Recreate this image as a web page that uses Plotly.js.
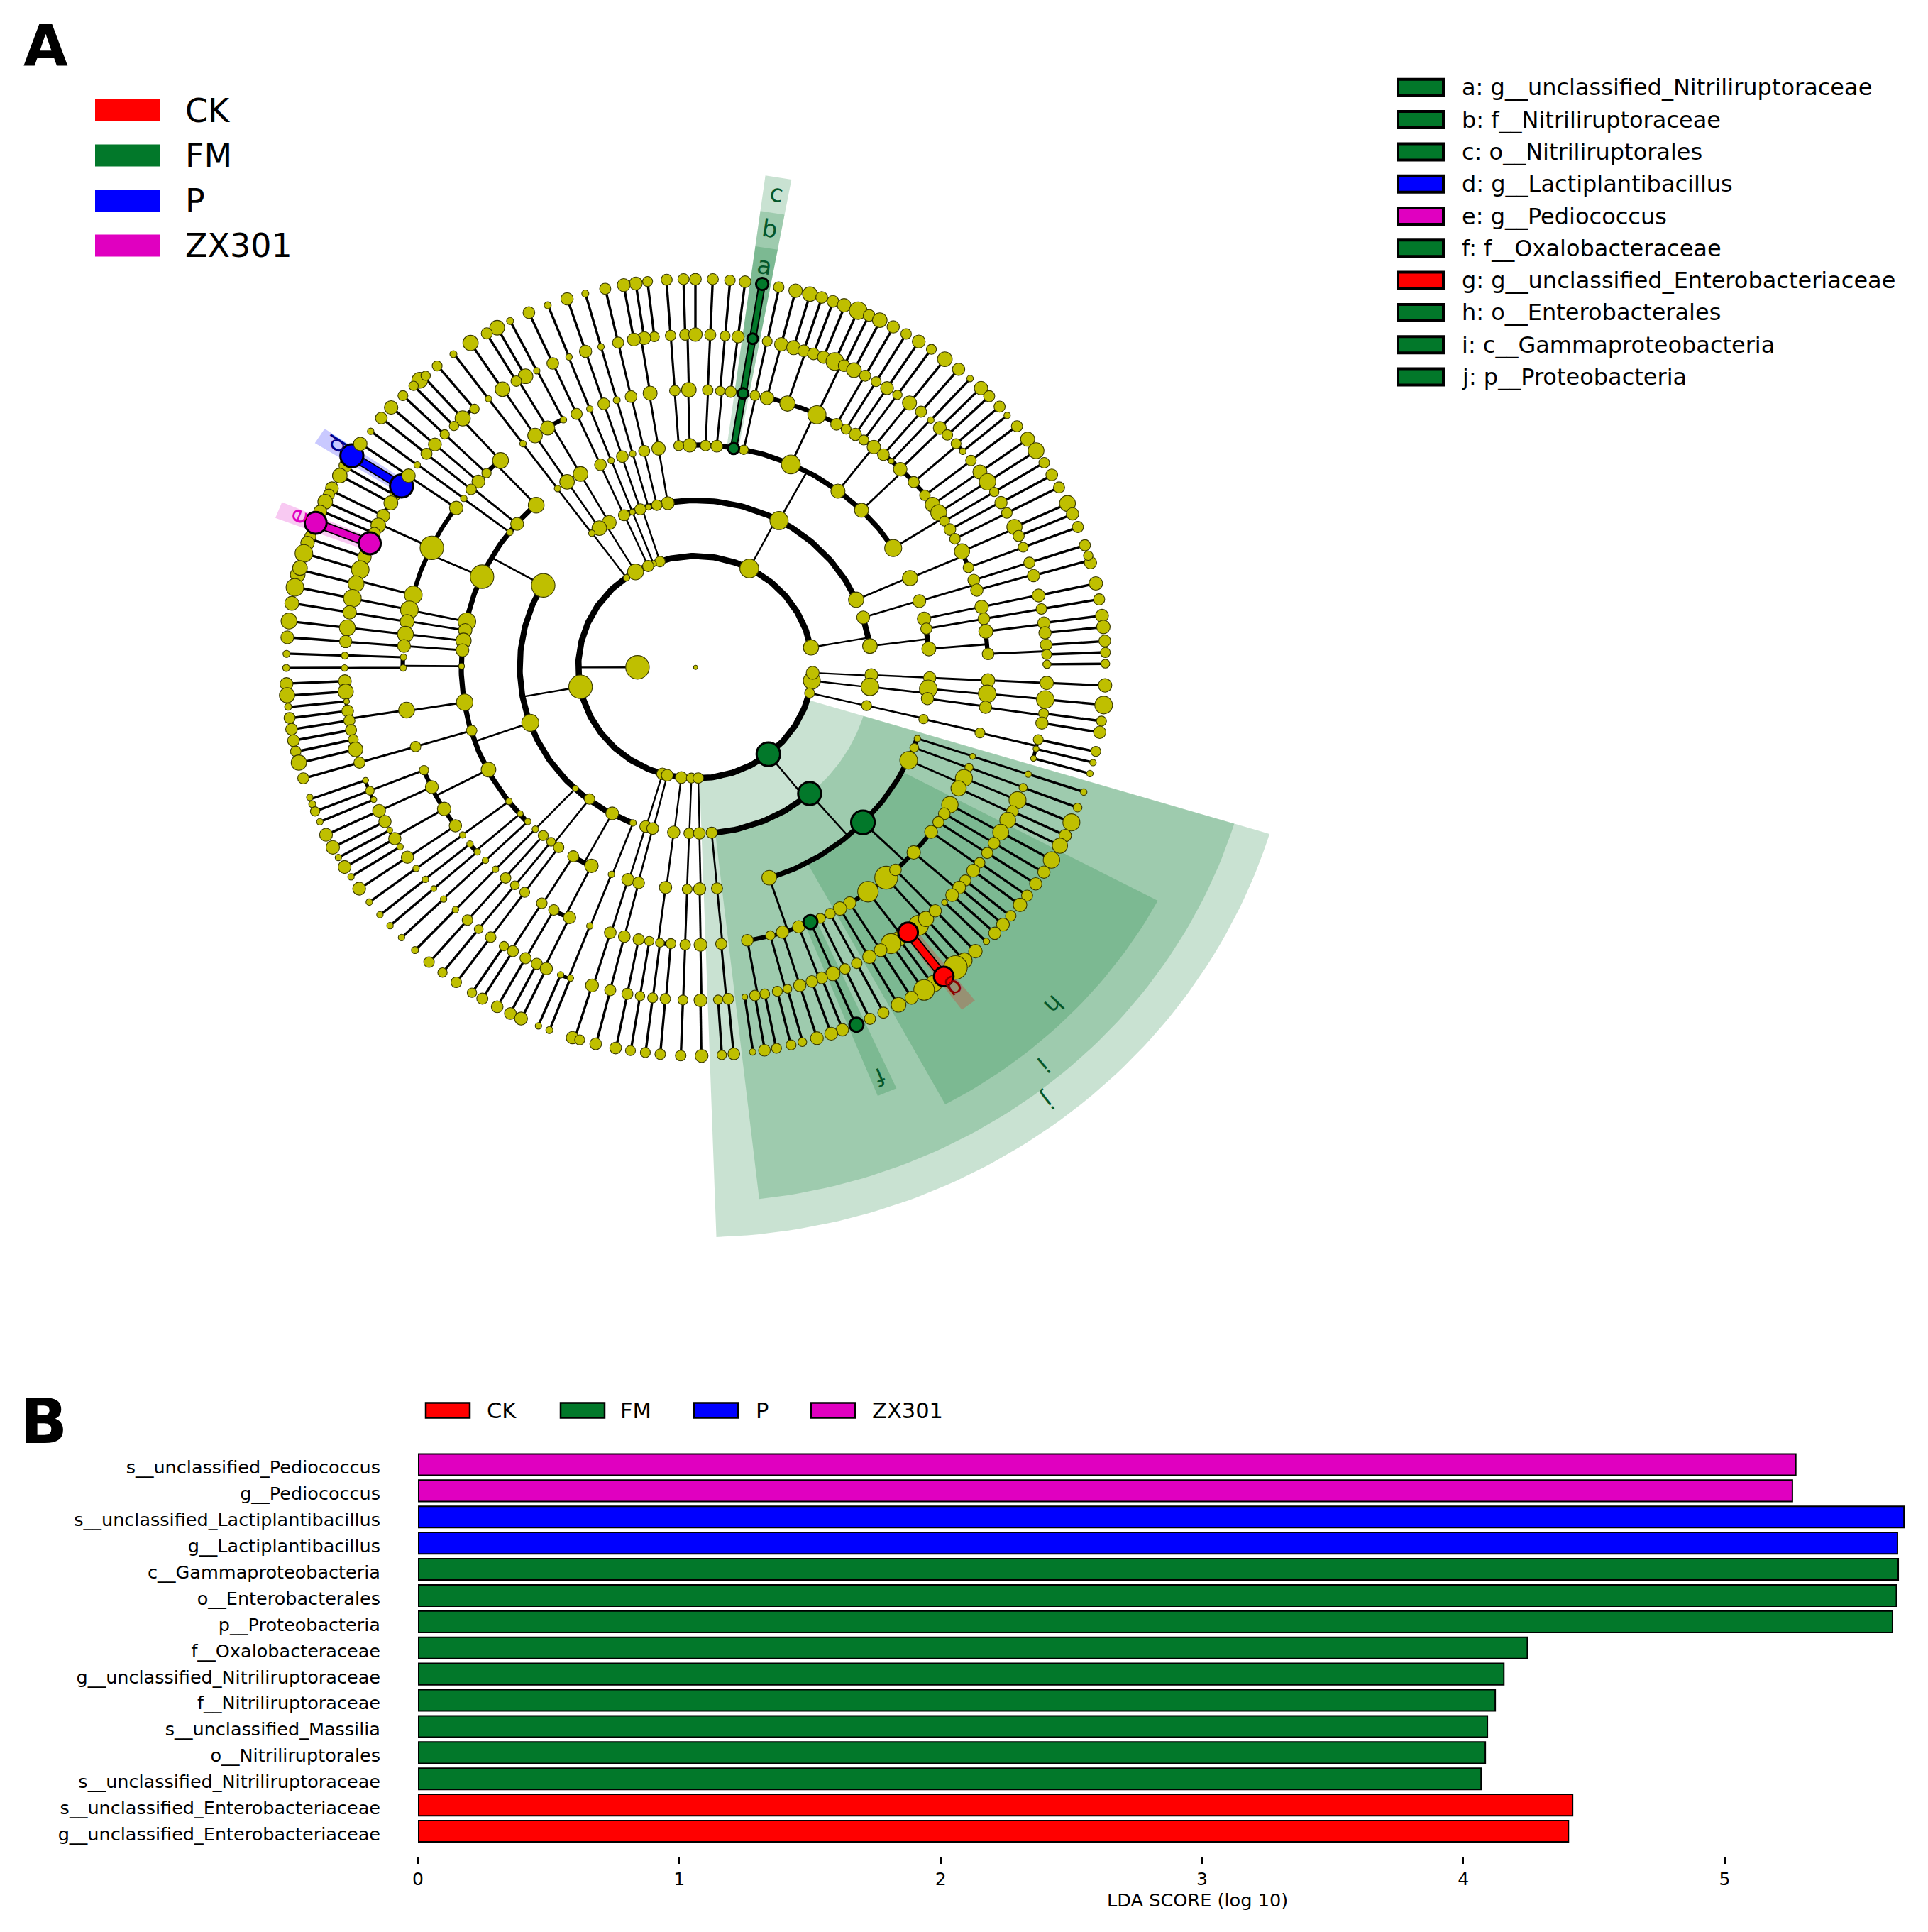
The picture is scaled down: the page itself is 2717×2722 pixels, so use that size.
<!DOCTYPE html>
<html><head><meta charset="utf-8">
<script src="https://cdn.plot.ly/plotly-3.0.1.min.js"></script>
<style>html,body{margin:0;padding:0;background:#fff}#chart{width:2717px;height:2722px}</style>
</head><body><div id="chart"></div>
<script>
/* ---------- panel B values ---------- */
const taxa = ["s__unclassified_Pediococcus","g__Pediococcus","s__unclassified_Lactiplantibacillus","g__Lactiplantibacillus","c__Gammaproteobacteria","o__Enterobacterales","p__Proteobacteria","f__Oxalobacteraceae","g__unclassified_Nitriliruptoraceae","f__Nitriliruptoraceae","s__unclassified_Massilia","o__Nitriliruptorales","s__unclassified_Nitriliruptoraceae","s__unclassified_Enterobacteriaceae","g__unclassified_Enterobacteriaceae"];
const ldaScores = [5.272,5.259,5.686,5.661,5.664,5.657,5.642,4.245,4.155,4.122,4.092,4.084,4.068,4.418,4.402];
const taxaGroup = ["ZX301","ZX301","P","P","FM","FM","FM","FM","FM","FM","FM","FM","FM","CK","CK"];
const groups = ["CK","FM","P","ZX301"];
const groupColor = {CK:"#ff0000",FM:"#02782a",P:"#0000ff",ZX301:"#e000c0"};
const cladeLegend = [["a: g__unclassified_Nitriliruptoraceae","FM"],["b: f__Nitriliruptoraceae","FM"],["c: o__Nitriliruptorales","FM"],["d: g__Lactiplantibacillus","P"],["e: g__Pediococcus","ZX301"],["f: f__Oxalobacteraceae","FM"],["g: g__unclassified_Enterobacteriaceae","CK"],["h: o__Enterobacterales","FM"],["i: c__Gammaproteobacteria","FM"],["j: p__Proteobacteria","FM"]];

/* ---------- panel A values: tree nodes read per plate quadrant [x, y, abundance diameter] ---------- */
const nodesNW = [[1475,135,38],[1415,137,38],[1347,143,34],[1305,150,44],[1262,156,44],[1196,169,38],[1125,186,24],[1060,205,42],[991,228,24],[924,254,40],[857,284,24],[811,308,50],[774,328,38],[716,362,52],[655,402,24],[597,444,34],[535,495,54],[556,479,32],[513,515,32],[475,550,34],[433,592,46],[398,630,40],[360,677,22],[270,800,44],[250,835,50],[222,880,44],[211,903,38],[198,928,50],[180,963,44],[145,1052,38],[135,1075,46],[122,1112,60],[100,1188,50],[108,1164,50],[90,1233,60],[79,1290,48],[69,1353,54],[63,1411,44],[60,1470,24],[59,1520,24],
[1481,333,38],[1429,336,36],[1371,340,34],[1335,345,44],[1298,350,44],[1242,361,38],[1181,376,22],[1126,392,42],[1067,412,22],[1009,435,40],[952,461,22],[912,481,50],[879,498,36],[830,527,50],[780,561,22],[730,597,32],[688,631,52],[657,658,32],[624,688,32],[589,724,44],[559,757,38],[526,797,22],[447,905,36],[432,932,48],[405,978,44],[387,1012,50],[373,1040,40],[338,1125,46],[323,1170,60],[308,1220,54],[295,1272,60],[285,1322,46],[277,1377,54],[271,1426,42],[268,1476,24],[267,1520,22],
[1494,529,50],[1444,532,36],[1356,541,48],[1288,553,40],[1237,566,24],[1191,579,40],[1141,597,22],[1094,615,38],[1047,636,22],[991,665,48],[946,692,50],[903,721,22],[823,781,54],[773,826,32],[744,856,44],[718,884,36],[692,916,22],[665,950,46],[578,1092,80],[512,1260,60],[498,1313,60],[490,1355,48],[484,1400,54],[479,1442,44],[477,1482,22],[476,1520,22],
[1497,727,46],[1458,728,34],[1386,738,46],[1335,747,38],[1294,757,22],[1257,767,40],[1217,781,22],[1179,796,40],[1108,829,50],[1060,857,50],[1026,881,22],[950,940,54],[882,1007,44],[856,1037,22],[757,1195,80],[703,1355,60],[697,1386,46],[691,1423,52],[687,1457,44],[684,1514,20],
[1419,933,44],[1380,940,36],[1350,947,20],[1321,955,38],[1293,965,20],[1263,976,38],[1210,1002,48],[1175,1022,50],[1148,1040,22],[975,1226,80],
[1391,1141,36],[1368,1149,20],[1349,1157,38],[1304,1178,54],[1272,1199,22],[1311,1518,80],[1518,1518,14]];
const nodesNE = [[0,135,40],[62,135,38],[123,139,36],[177,144,40],[297,163,36],[357,176,46],[408,188,50],[450,200,40],[490,214,40],[530,228,46],[580,247,60],[619,264,40],[657,281,50],[705,305,42],[751,330,36],[796,357,44],[841,385,34],[889,420,50],[938,456,42],[979,489,22],[1018,523,46],[1047,552,38],[1084,589,38],[1111,620,22],[1146,659,38],[1184,705,48],[1214,746,54],[1243,789,36],[1270,832,40],[1296,877,38],[1326,934,54],[1344,971,42],[1363,1018,38],[1388,1083,38],[1408,1145,42],[1400,1120,32],[1427,1219,46],[1439,1276,38],[1449,1334,44],[1454,1374,46],[1459,1424,40],[1461,1465,34],[1461,1505,30],
[0,332,46],[53,333,38],[106,337,34],[152,340,42],[256,356,34],[306,367,46],[350,379,48],[386,390,40],[421,401,40],[457,413,42],[497,428,60],[530,443,40],[565,459,50],[605,479,38],[644,500,34],[683,523,44],[720,547,32],[763,576,48],[804,607,38],[839,637,22],[871,665,44],[898,690,36],[929,721,34],[953,748,22],[982,781,36],[1014,822,48],[1041,857,56],[1065,893,32],[1089,931,42],[1110,968,36],[1137,1018,52],[1152,1050,38],[1168,1090,34],[1190,1145,38],[1205,1191,42],[1223,1262,44],[1233,1310,36],[1242,1360,42],[1246,1395,42],[1250,1438,40],[1252,1472,34],[1253,1507,28],
[44,530,36],[88,533,32],[126,536,38],[212,549,34],[255,558,46],[328,578,52],[433,618,62],[503,652,40],[537,669,34],[570,688,42],[600,708,34],[636,733,46],[670,760,40],[698,783,20],[730,812,46],[778,858,38],[818,905,36],[845,938,50],[867,967,54],[888,997,34],[907,1027,40],[925,1060,36],[950,1105,52],[973,1162,36],[992,1207,40],[1003,1243,42],[1020,1303,46],[1028,1345,40],[1035,1390,48],[1043,1470,40],
[36,728,36],[76,730,40],[172,743,32],[340,795,64],[508,890,48],[592,958,48],[705,1093,58],[765,1200,52],[798,1282,44],[815,1345,46],[823,1380,38],[832,1452,48],
[298,995,62],[573,1277,52],[598,1340,44],[622,1442,50],[192,1166,64],[412,1447,52]];
const nodesSW = [[60,60,44],[62,100,52],[66,141,24],[71,181,38],[78,221,40],[85,262,40],[93,300,36],[104,340,52],[120,396,38],[143,464,22],[152,488,24],[162,514,32],[179,551,22],[201,597,44],[225,642,46],[245,678,22],[267,712,44],[290,747,22],[319,789,44],[355,837,22],[393,882,22],[429,921,22],[470,963,22],[518,1008,24],[568,1051,36],[616,1088,32],[665,1123,36],[721,1160,32],[758,1181,38],[811,1210,40],[858,1234,40],[896,1252,44],[958,1278,22],[997,1293,24],[1079,1320,42],[1105,1328,34],[1162,1342,40],[1233,1357,40],[1286,1366,34],[1339,1373,34],[1392,1379,36],[1465,1384,36],
[268,50,44],[271,87,52],[274,122,20],[278,156,40],[284,190,38],[290,224,38],[298,258,34],[306,293,50],[320,340,38],[342,403,20],[357,440,30],[371,472,20],[390,512,44],[411,550,42],[428,581,20],[446,611,42],[465,640,22],[491,677,42],[522,717,22],[555,756,22],[585,789,20],[620,826,22],[662,864,22],[705,901,36],[745,933,30],[788,962,36],[835,994,32],[867,1012,38],[912,1037,38],[952,1057,38],[986,1074,42],[1037,1096,22],[1072,1108,22],[1149,1134,44],[1214,1151,38],[1275,1164,38],[1320,1172,32],[1365,1178,34],[1410,1182,36],[1473,1186,34],
[488,153,54],[520,283,36],[550,367,32],[578,427,44],[622,505,46],[662,565,42],[688,598,22],[714,630,22],[740,658,22],[769,688,22],[805,720,22],[841,751,36],[874,777,30],[909,802,34],[970,841,36],[1013,865,36],[1069,892,42],[1141,922,22],[1214,946,40],[1264,960,40],[1315,970,38],[1353,976,32],[1391,982,30],[1430,985,34],[1481,989,36],
[695,125,56],[720,226,36],[780,365,50],[853,478,22],[893,522,20],[920,550,22],[947,577,22],[975,600,34],[1003,622,30],[1030,642,36],[1082,674,38],[1147,708,46],[1218,738,22],[1277,757,42],[1315,768,40],[1411,785,42],[1488,791,34],
[929,198,58],[1090,432,20],[1140,470,36],[1221,521,44],[1295,555,22],[1340,568,40],[1365,575,40],[1440,588,42],[1495,592,36],
[1108,70,80],[1400,380,40],[1417,385,40],[1467,393,40],[1503,395,34]];
const nodesSE = [[1460,65,46],[1455,135,60],[1447,192,34],[1441,232,42],[1427,300,34],[1417,340,22],[1406,379,22],[1384,445,22],[1362,500,30],[1340,553,58],[1318,600,42],[1299,636,52],[1269,687,56],[1242,730,42],[1213,772,42],[1182,814,38],[1157,847,46],[1124,886,36],[1096,917,44],[1067,948,42],[1037,977,22],[998,1012,46],[959,1045,52],[927,1070,80],[850,1127,56],[815,1150,70],[770,1178,44],[724,1203,50],[670,1231,38],[622,1253,38],[524,1292,42],[484,1306,44],[433,1322,44],[381,1336,30],[341,1346,34],[289,1358,34],[246,1365,40],[204,1371,22],[137,1378,40],[94,1382,32],[22,1385,44],
[1252,56,46],[1247,115,60],[1241,165,34],[1235,199,42],[1222,258,34],[1214,291,20],[1205,325,20],[1186,381,22],[1168,429,28],[1148,474,58],[1130,514,40],[1113,545,54],[1088,588,54],[1064,627,40],[1040,662,38],[1013,697,36],[990,725,44],[962,760,38],[940,785,44],[915,812,44],[888,838,20],[795,920,68],[822,897,52],[855,868,42],[725,968,50],[697,985,68],[660,1008,44],[620,1032,46],[575,1055,36],[533,1075,36],[490,1092,48],[450,1107,40],[415,1120,40],[372,1134,42],[328,1146,30],[292,1155,34],[247,1164,34],[212,1170,36],[176,1175,20],[117,1182,38],[81,1185,32],[18,1187,44],
[1043,47,46],[1040,95,60],[1034,143,42],[1014,234,34],[988,318,20],[975,357,28],[957,395,58],[938,432,52],[907,490,56],[887,522,40],[866,552,38],[840,587,44],[778,660,46],[680,750,78],[713,722,40],[615,800,70],[550,840,42],[515,860,46],[480,878,36],[445,895,34],[368,925,42],[310,944,42],[267,956,32],[185,973,40],[92,986,38],[18,989,44],
[835,38,42],[830,77,60],[827,112,42],[813,185,32],[791,254,22],[780,287,30],[760,332,60],[263,750,50],[77,788,38],[15,790,42],
[627,28,44],[622,70,60],[610,137,34],[58,590,38],[14,592,40],[415,48,58],[418,20,44],[407,92,34],[10,395,36]];
const overlayNodesNW = [[323,722,46],[495,835,46]];

/* marked biomarkers: plate, group, chain of nodes */
const biomarkerChains = [
 ["NE","FM",[[136,738,40],[170,542,38],[204,347,38],[238,152,44]]],
 ["NW","P",[[470,872,82],[293,764,82]]],
 ["NW","ZX301",[[357,1076,78],[164,1003,78]]],
 ["SE","CK",[[758,945,70],[885,1102,70]]]];
const biomarkerNodes = [["SE","FM",[260,310,84]],["SE","FM",[407,450,82]],["SE","FM",[597,553,84]],["SE","FM",[410,908,50]],["SE","FM",[574,1274,50]]];

/* branch arcs: long ones as [ring, fromDeg, toDeg]; short ones as pairs of node positions on a plate */
const longArcs = [[165,10,347],[247.5,24,99],[247.5,150.5,249],[247.5,275,311],[330,32,94],[330,133,224],[330,288.5,341.4],[412.5,27.5,75.8],[412.5,280.2,330.4]];
const shortArcs = {
 NW:[[665,950,578,1092],[578,1092,512,1260],[823,781,773,826],[991,665,1047,636],[477,1482,476,1520],[405,978,432,932],[688,631,730,597],[1419,933,1263,976],[1210,1002,1148,1040]],
 NE:[[950,1105,973,1162],[1035,1390,1043,1470],[823,1380,832,1452],[815,1345,823,1380],[598,1340,622,1442],[992,1207,1003,1243],[953,748,929,721]],
 SW:[[275,122,278,156],[342,403,371,472],[428,581,446,611],[714,630,740,658],[1013,865,1069,892],[1037,1096,1072,1108],[1082,674,1147,708],[550,367,622,505],[622,505,662,565],[1391,982,1430,985]],
 SE:[[1205,325,1222,258],[418,20,407,92]]};

/* coloured clade sectors: [centre deg, half width deg, inner ring, outer radius, group] */
const sectors = [[-52.5,35.5,165,846,"FM"],[-50.25,33.25,247.5,794,"FM"],[-44.75,16.75,330,738,"FM"],[-66.8,1.2,412.5,686,"FM"],[-52.5,1.05,495,632,"CK"],[80.85,1.45,330,736,"FM"],[80.85,1.45,412.5,683,"FM"],[80.85,1.45,495,630,"FM"],[147.05,1.15,495,631,"P"],[158.35,1.15,495,632,"ZX301"]];
const sectorLabels = [["a",1077,374,9,"#04572a"],["b",1085,322,9,"#04572a"],["c",1094,272,9,"#04572a"],["d",474,625,-57,"#00008c"],["e",419,727,-68,"#e000c0"],["f",1240,1517,157,"#04572a"],["g",1346,1393,142,"#8c0000"],["h",1485,1416,135,"#04572a"],["i",1471,1500,140,"#04572a"],["j",1477,1551,142,"#04572a"]];

/* ---------- plate geometry ---------- */
const plate = {NW:[380,340],NE:[980,340],SW:[380,940],SE:[980,940]}, zoomK = 1568/620;
const cx = 980, cy = 940, squash = 577/548, ringStep = 82.5, nodeScale = 1.05;
const px = (p,x) => plate[p][0] + x/zoomK, py = (p,y) => plate[p][1] + y/zoomK;
const polar = (p,x,y) => { const dx=px(p,x)-cx, dy=(py(p,y)-cy)*squash; return {r:Math.hypot(dx,dy), a:Math.atan2(-dy,dx)*180/Math.PI}; };
const ptAt = (r,a) => [cx + r*Math.cos(a*Math.PI/180), cy - r*Math.sin(a*Math.PI/180)/squash];
const allNodes = [["NW",nodesNW],["NE",nodesNE],["SW",nodesSW],["SE",nodesSE]];

/* stems, per ring */
const stemWidth = {1:2.3,2:2.4,3:2.6,4:2.9,5:3.1,6:3.4};
const stems = {};
function addStem(p,n){ const q=polar(p,n[0],n[1]); const lvl=Math.round(q.r/ringStep);
  if(lvl<1||lvl>6) return; (stems[lvl]=stems[lvl]||{x:[],y:[]});
  const A=ptAt(lvl*ringStep,q.a),B=ptAt((lvl+1)*ringStep,q.a);
  stems[lvl].x.push(A[0],B[0],null); stems[lvl].y.push(A[1],B[1],null); }
allNodes.forEach(([p,list])=>list.forEach(n=>addStem(p,n)));
overlayNodesNW.forEach(n=>addStem("NW",n));
biomarkerNodes.forEach(([p,g,n])=>addStem(p,n));

/* arcs, per ring */
const arcWidth = {1:3,2:8.6,3:8.2,4:7.2,5:6.2,6:5,7:3};
const arcs = {};
function addArc(ring,a1,a2){ const lvl=Math.round(ring/ringStep); (arcs[lvl]=arcs[lvl]||{x:[],y:[]});
  const n=Math.max(2,Math.ceil(Math.abs(a2-a1)));
  for(let i=0;i<=n;i++){const P=ptAt(lvl*ringStep,a1+(a2-a1)*i/n);arcs[lvl].x.push(P[0]);arcs[lvl].y.push(P[1]);}
  arcs[lvl].x.push(null);arcs[lvl].y.push(null); }
longArcs.forEach(([r,a,b])=>addArc(r,a,b));
Object.entries(shortArcs).forEach(([p,list])=>list.forEach(([x1,y1,x2,y2])=>{
  const A=polar(p,x1,y1),B=polar(p,x2,y2); let a=A.a,b=B.a; if(b-a>180)b-=360; if(a-b>180)b+=360; addArc(A.r,a,b); }));

const traces = [];
const hexA = (h,al)=>`rgba(${parseInt(h.slice(1,3),16)},${parseInt(h.slice(3,5),16)},${parseInt(h.slice(5,7),16)},${al})`;
sectors.forEach(([c,h,r0,r1,g])=>{ const xs=[],ys=[],n=Math.ceil(2*h)+1;
  for(let i=0;i<=n;i++){const P=ptAt(r1,c-h+2*h*i/n);xs.push(P[0]);ys.push(P[1]);}
  for(let i=n;i>=0;i--){const P=ptAt(r0,c-h+2*h*i/n);xs.push(P[0]);ys.push(P[1]);}
  traces.push({type:"scatter",x:xs,y:ys,mode:"lines",fill:"toself",fillcolor:hexA(groupColor[g],0.21),line:{width:0},hoverinfo:"skip",showlegend:false}); });
Object.keys(stems).forEach(l=>traces.push({type:"scatter",mode:"lines",x:stems[l].x,y:stems[l].y,line:{color:"#000",width:stemWidth[l]},hoverinfo:"skip",showlegend:false}));
Object.keys(arcs).forEach(l=>traces.push({type:"scatter",mode:"lines",x:arcs[l].x,y:arcs[l].y,line:{color:"#000",width:arcWidth[l]},hoverinfo:"skip",showlegend:false}));

/* yellow nodes */
const nodeTrace = (p,list)=>({type:"scatter",mode:"markers",x:list.map(n=>px(p,n[0])),y:list.map(n=>py(p,n[1])),
  marker:{color:"#bfbf00",opacity:1,size:list.map(n=>nodeScale*n[2]/zoomK),line:{color:"#3a3a00",width:1.1}},hoverinfo:"skip",showlegend:false});
allNodes.forEach(([p,list])=>traces.push(nodeTrace(p,list)));

/* biomarkers */
biomarkerChains.forEach(([p,g,chain],k)=>{ const xs=chain.map(n=>px(p,n[0])),ys=chain.map(n=>py(p,n[1]));
  const w = k===0?[10.5,6.5]:[13,9.5];
  traces.push({type:"scatter",mode:"lines",x:xs,y:ys,line:{color:"#000",width:w[0]},hoverinfo:"skip",showlegend:false});
  traces.push({type:"scatter",mode:"lines",x:xs,y:ys,line:{color:groupColor[g],width:w[1]},hoverinfo:"skip",showlegend:false});
  traces.push({type:"scatter",mode:"markers",x:xs,y:ys,marker:{color:groupColor[g],opacity:1,size:chain.map(n=>n[2]/zoomK),line:{color:"#000",width:3}},hoverinfo:"skip",showlegend:false}); });
biomarkerNodes.forEach(([p,g,n])=>traces.push({type:"scatter",mode:"markers",x:[px(p,n[0])],y:[py(p,n[1])],marker:{color:groupColor[g],opacity:1,size:n[2]/zoomK,line:{color:"#000",width:3}},hoverinfo:"skip",showlegend:false}));
traces.push(nodeTrace("NW",overlayNodesNW));

/* panel B bars */
traces.push({type:"bar",orientation:"h",xaxis:"x2",yaxis:"y2",x:ldaScores,y:taxa,
  marker:{color:taxaGroup.map(g=>groupColor[g]),line:{color:"#000",width:2}},hoverinfo:"skip",showlegend:false});

/* layout helpers */
const shapes=[],ann=[];
const FONT="DejaVu Sans";
const txt=(t,x,y,size,o={})=>ann.push(Object.assign({text:t,x,y,xref:"x",yref:"y",showarrow:false,xanchor:"left",yanchor:"middle",font:{family:FONT,size,color:"#000"}},o));
const rect=(x0,y0,x1,y1,fill,lw)=>shapes.push({type:"rect",xref:"x",yref:"y",x0,y0,x1,y1,fillcolor:fill,line:{color:"#000",width:lw}});
groups.forEach((g,i)=>{ const y=155.5+63.5*i; shapes.push({type:"rect",xref:"x",yref:"y",x0:134,x1:226,y0:y-15.5,y1:y+15.5,fillcolor:groupColor[g],line:{width:0}}); txt(g,259,y,46); });
cladeLegend.forEach(([t,g],i)=>{ const y=123.3+45.3*i; rect(1970,y-11.5,2034,y+11.5,groupColor[g],4); txt(t,2058,y,32); });
const bLegX=[[600,684],[790,872],[978,1063],[1143,1227]];
groups.forEach((g,i)=>{ rect(bLegX[i][0],1976.5,bLegX[i][0]+62,1997.5,groupColor[g],2.5); txt(g,bLegX[i][1],1987,30.5); });
txt("A",31,65,81,{font:{family:FONT,size:81,color:"#000",weight:700}});
txt("B",26,2002,88,{font:{family:FONT,size:88,color:"#000",weight:700}});
txt("LDA SCORE (log 10)",1687,2677,25.6,{xanchor:"center"});
sectorLabels.forEach(([t,x,y,rot,c])=>txt(t,x,y,34,{xanchor:"center",textangle:rot,font:{family:FONT,size:34,color:c}}));

const W=2717,H=2722,barX0=589,barX1=2705,unit=368.3,barTop=2045,barBot=2598.5;
const layout={width:W,height:H,margin:{l:0,r:0,t:0,b:0,pad:0},paper_bgcolor:"#fff",plot_bgcolor:"rgba(0,0,0,0)",showlegend:false,
  xaxis:{domain:[0,1],range:[0,W],visible:false,fixedrange:true},
  yaxis:{domain:[0,1],range:[H,0],visible:false,fixedrange:true},
  xaxis2:{domain:[barX0/W,barX1/W],range:[0,(barX1-barX0)/unit],anchor:"free",position:(H-2616)/H,tickvals:[0,1,2,3,4,5],ticks:"outside",ticklen:9,tickwidth:2,tickcolor:"#000",showline:false,showgrid:false,zeroline:false,tickfont:{family:FONT,size:25,color:"#000"},fixedrange:true},
  yaxis2:{domain:[(H-barBot)/H,(H-barTop)/H],anchor:"x2",type:"category",categoryorder:"array",categoryarray:taxa,range:[14.5,-0.5],showline:false,showgrid:false,zeroline:false,ticks:"",ticklabelstandoff:52,ticklabelshift:-4,tickfont:{family:FONT,size:25.5,color:"#000"},fixedrange:true},
  bargap:0.185,shapes,annotations:ann,font:{family:FONT}};
Plotly.newPlot("chart",traces,layout,{staticPlot:true,displayModeBar:false});
</script></body></html>
